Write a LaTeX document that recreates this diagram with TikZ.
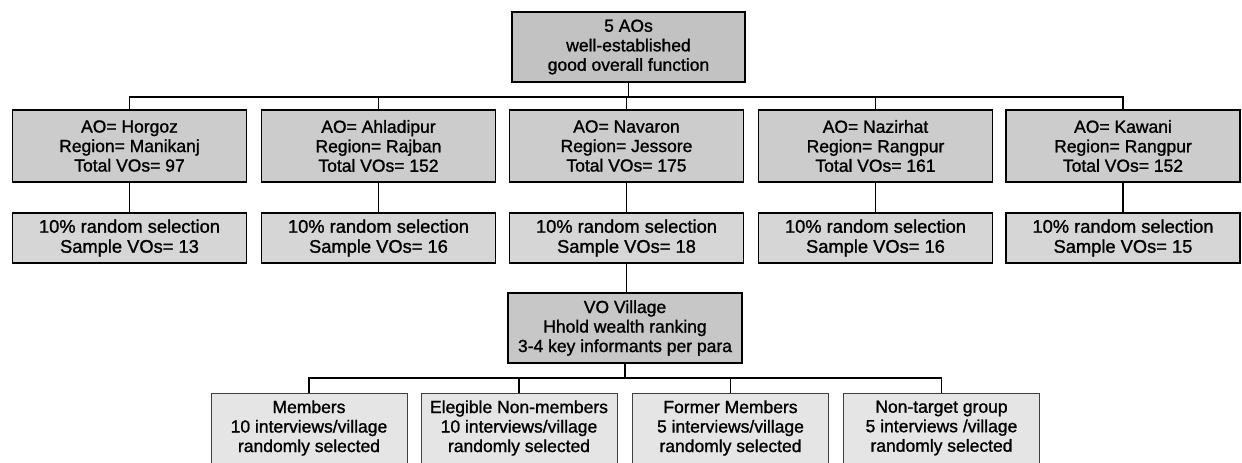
\documentclass[tikz,border=0pt]{standalone}
\usepackage{fontspec}
\setmainfont[FakeBold=1.2]{Liberation Sans}
\begin{document}
\begin{tikzpicture}[x=1pt,y=-1pt,
  box/.style={draw=black, line width=1.3pt, fill=black!22, align=center, inner sep=0pt,
    font=\fontsize{17.5}{19.5}\selectfont},
  topbox/.style={box, fill=black!24, minimum width=233pt, minimum height=70pt},
  aobox/.style={box, fill=black!20, minimum width=234pt, minimum height=72pt},
  selbox/.style={box, fill=black!16, minimum width=234pt, minimum height=50pt,
    font=\fontsize{18.3}{20}\selectfont},
  vobox/.style={box, fill=black!22, minimum width=234pt, minimum height=70pt},
  grpbox/.style={box, fill=black!10, draw=black!75, line width=0.9pt,
    minimum width=196pt, minimum height=70pt},
  conn/.style={draw=black, line width=1.5pt}]
\useasboundingbox (0,0) rectangle (1242,463);

\node[topbox] (top) at (628.5,47) {5 AOs\\well-established\\good overall function};

\node[aobox] (a1) at (129.5,146) {AO= Horgoz\\Region= Manikanj\\Total VOs= 97};
\node[aobox] (a2) at (378.5,146) {AO= Ahladipur\\Region= Rajban\\Total VOs= 152};
\node[aobox] (a3) at (626.5,146) {AO= Navaron\\Region= Jessore\\Total VOs= 175};
\node[aobox] (a4) at (875.5,146) {AO= Nazirhat\\Region= Rangpur\\Total VOs= 161};
\node[aobox] (a5) at (1123,146) {AO= Kawani\\Region= Rangpur\\Total VOs= 152};

\node[selbox] (b1) at (129.5,238) {10\% random selection\\Sample VOs= 13};
\node[selbox] (b2) at (378.5,238) {10\% random selection\\Sample VOs= 16};
\node[selbox] (b3) at (626.5,238) {10\% random selection\\Sample VOs= 18};
\node[selbox] (b4) at (875.5,238) {10\% random selection\\Sample VOs= 16};
\node[selbox] (b5) at (1123,238) {10\% random selection\\Sample VOs= 15};

\node[vobox] (vo) at (625,328) {VO Village\\Hhold wealth ranking\\3-4 key informants per para};

\node[grpbox] (c1) at (309,428) {Members\\10 interviews/village\\randomly selected};
\node[grpbox] (c2) at (519,428) {Elegible Non-members\\10 interviews/village\\randomly selected};
\node[grpbox] (c3) at (730.5,428) {Former Members\\5 interviews/village\\randomly selected};
\node[grpbox] (c4) at (941.5,428) {Non-target group\\5 interviews /village\\randomly selected};

\coordinate (bus1) at (0,97);
\coordinate (bus2) at (0,378);

\draw[conn] (top.south) -- (top.south |- bus1);
\draw[conn] (a1.north) -- (a1.north |- bus1) -- (a5.north |- bus1) -- (a5.north);
\foreach \i in {2,3,4} { \draw[conn] (a\i.north) -- (a\i.north |- bus1); }
\foreach \i in {1,...,5} { \draw[conn] (a\i.south) -- (b\i.north); }
\draw[conn] (b3.south) -- (b3.south |- vo.north);
\draw[conn] (vo.south) -- (vo.south |- bus2);
\draw[conn] (c1.north) -- (c1.north |- bus2) -- (c4.north |- bus2) -- (c4.north);
\foreach \i in {2,3} { \draw[conn] (c\i.north) -- (c\i.north |- bus2); }
\end{tikzpicture}
\end{document}
